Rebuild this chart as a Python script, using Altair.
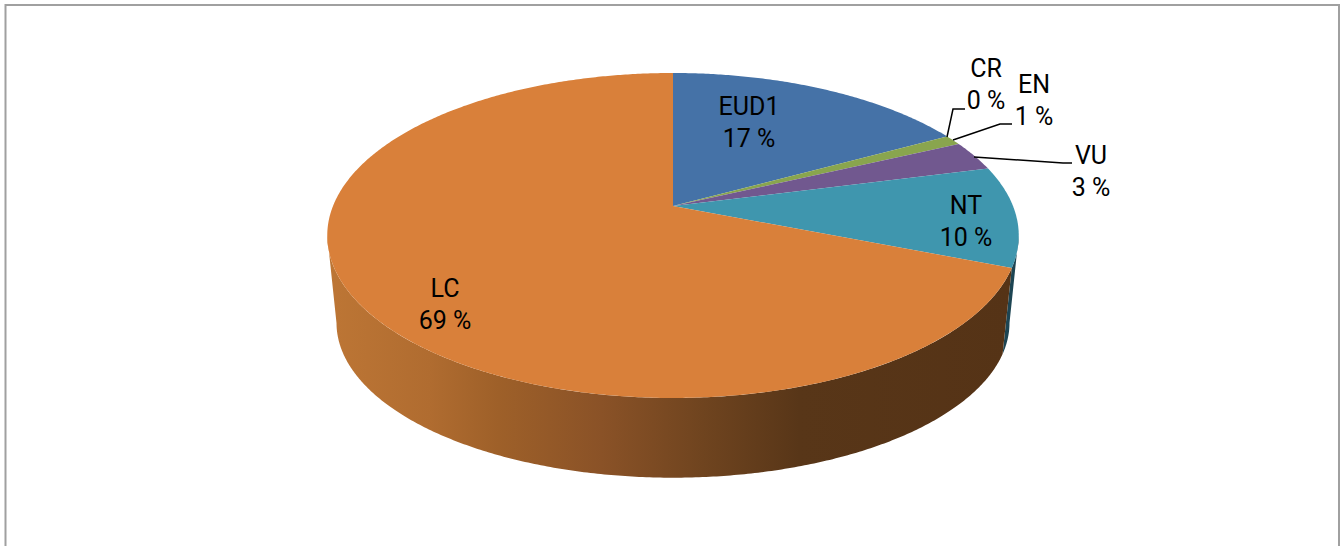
import altair as alt
import numpy as np
import pandas as pd

# Share of species per threat category, clockwise from twelve o'clock
categories = ["EUD1", "CR", "EN", "VU", "NT", "LC"]
percents = [17, 0, 1, 3, 10, 69]

slice_colors = ["#4572a7", "#aa4643", "#89a54e", "#71588f", "#3f96ae", "#d9803a"]
teal_wall = "#1d4553"

# Label placement: label centre (x, first line y, second line y)
label_x = [749, 986, 1034, 1091, 966, 445]
label_y1 = [107, 69, 85, 156, 206, 289]
label_y2 = [139, 101, 117, 188, 238, 321]

# Leader lines for the three labels set outside the pie
leaders = {
    "CR": ([947, 953, 965], [137, 109, 109]),
    "EN": ([953, 1000, 1012], [140, 124, 124]),
    "VU": ([974, 1063, 1072], [157, 163, 163]),
}

W, H = 1341, 546
CX = 673

# Perspective projection of the pie's top and bottom discs
TOP = dict(r=340.0, a=206.0, b=-119.75, c=0.1815)
BOTTOM = dict(r=331.0, a=295.0, b=-96.7, c=0.18)


def project(theta_deg, plane):
    t = np.radians(np.asarray(theta_deg, dtype=float))
    sx, cy = np.sin(t), np.cos(t)
    den = 1 + plane["c"] * cy
    return CX + plane["r"] * sx / den, (plane["a"] + plane["b"] * cy) / den


def sweep(start, end):
    n = max(2, int(abs(end - start) * 2) + 1)
    return np.linspace(start, end, n)


def wedge_rows(name, start, end, color):
    xs, ys = project(sweep(start, end), TOP)
    xs = np.concatenate([[CX], xs])
    ys = np.concatenate([[TOP["a"]], ys])
    return pd.DataFrame({"name": name, "i": range(len(xs)), "x": xs, "y": ys, "fill": color})


def wall_rows(name, start, end):
    angles = sweep(start, end)
    tx, ty = project(angles, TOP)
    bx, by = project(angles[::-1], BOTTOM)
    xs = np.concatenate([tx, bx])
    ys = np.concatenate([ty, by])
    return pd.DataFrame({"name": name, "i": range(len(xs)), "x": xs, "y": ys})


cum = np.cumsum([0] + percents) * 3.6
wedges = pd.concat(
    [
        wedge_rows(n, cum[i], cum[i + 1], slice_colors[i])
        for i, n in enumerate(categories)
        if percents[i] > 0
    ],
    ignore_index=True,
)

# Silhouette angles: the walls stop where the discs are widest
right_limit = np.degrees(np.arccos(-TOP["c"]))
left_limit = 360 - right_limit
nt_index = categories.index("NT")
teal_side = wall_rows("NT wall", right_limit, cum[nt_index + 1])
orange_side = wall_rows("LC wall", cum[nt_index + 1], left_limit)

x_enc = alt.X("x:Q", scale=alt.Scale(domain=[0, W]), axis=None)
y_enc = alt.Y("y:Q", scale=alt.Scale(domain=[H, 0]), axis=None)

wall_gradient = alt.LinearGradient(
    gradient="linear",
    x1=0,
    x2=1,
    y1=0,
    y2=0,
    stops=[
        alt.GradientStop(offset=0.0, color="#bd7635"),
        alt.GradientStop(offset=0.15, color="#b06c30"),
        alt.GradientStop(offset=0.25, color="#9e6029"),
        alt.GradientStop(offset=0.40, color="#8a5227"),
        alt.GradientStop(offset=0.55, color="#6f441f"),
        alt.GradientStop(offset=0.69, color="#583618"),
        alt.GradientStop(offset=1.0, color="#553316"),
    ],
)

teal_layer = (
    alt.Chart(teal_side)
    .mark_line(filled=True, fill=teal_wall, strokeWidth=0, interpolate="linear-closed")
    .encode(x=x_enc, y=y_enc, order="i:Q")
)
orange_layer = (
    alt.Chart(orange_side)
    .mark_line(filled=True, fill=wall_gradient, strokeWidth=0, interpolate="linear-closed")
    .encode(x=x_enc, y=y_enc, order="i:Q")
)
wedge_layer = (
    alt.Chart(wedges)
    .mark_line(filled=True, strokeWidth=0, interpolate="linear-closed")
    .encode(
        x=x_enc,
        y=y_enc,
        order="i:Q",
        detail="name:N",
        fill=alt.Fill("fill:N", scale=None),
    )
)

leader_df = pd.concat(
    [
        pd.DataFrame({"name": k, "i": range(3), "x": v[0], "y": v[1]})
        for k, v in leaders.items()
    ],
    ignore_index=True,
)
leader_layer = (
    alt.Chart(leader_df)
    .mark_line(color="#000000", strokeWidth=1.5)
    .encode(x=x_enc, y=y_enc, order="i:Q", detail="name:N")
)

labels = pd.DataFrame(
    {
        "x": label_x * 2,
        "y": label_y1 + label_y2,
        "text": categories + [f"{p} %" for p in percents],
    }
)
label_layer = (
    alt.Chart(labels)
    .mark_text(
        font="Roboto",
        fontSize=25,
        color="#000000",
        align="center",
        baseline="middle",
    )
    .encode(x=x_enc, y=y_enc, text="text:N")
)

# Grey frame; its lower edge runs past the bottom of the page
frame = pd.DataFrame(
    {"x": [5.5, 5.5, 1339, 1339], "y": [600, 5, 5, 600], "i": range(4)}
)
frame_layer = (
    alt.Chart(frame)
    .mark_line(color="#a0a0a0", strokeWidth=2, clip=True)
    .encode(x=x_enc, y=y_enc, order="i:Q")
)

chart = (
    alt.layer(frame_layer, teal_layer, orange_layer, wedge_layer, leader_layer, label_layer)
    .properties(width=W, height=H, padding=0, autosize=alt.AutoSizeParams(type="none"))
    .configure_view(stroke=None)
)

chart.save("out.html", embed_options={"renderer": "svg", "actions": False})
